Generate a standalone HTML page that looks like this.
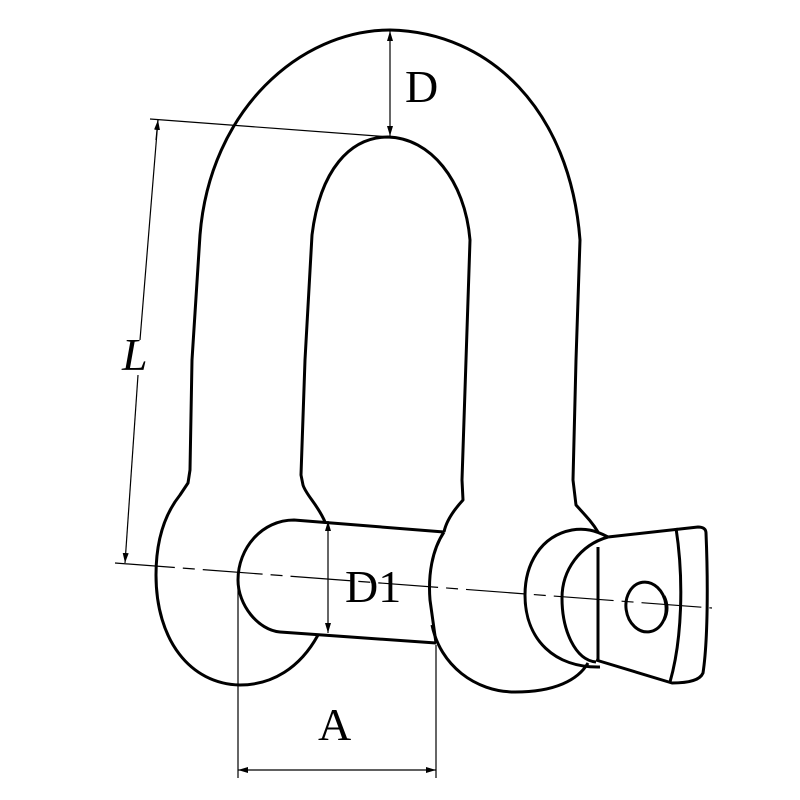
<!DOCTYPE html>
<html><head><style>html,body{margin:0;padding:0;background:#fff}svg{display:block}</style></head>
<body>
<svg width="800" height="800" viewBox="0 0 800 800" xmlns="http://www.w3.org/2000/svg">
<defs>
<marker id="ar" viewBox="0 0 10 10" refX="10" refY="5" markerWidth="10" markerHeight="10" orient="auto-start-reverse" markerUnits="userSpaceOnUse"><path d="M0,2 L10,5 L0,8 z" fill="#000"/></marker>
</defs>
<g fill="none" stroke="#000" stroke-width="3" stroke-linejoin="round">
<path d="M318,635 C300,668 272,685 240,685 C190,684 156,640 156,575 C156,535 168,510 180,495 L188,483 L190,470 L192,360 L200,235 C210,110 300,30 390,30 C490,32 570,110 580,240 L576,360 L573,480 L576,505 C585,515 592,522 598,532"/>
<path d="M325,522 C318,505 306,495 303,485 L301,475 L305,360 L312,235 C320,170 350,137 388,137 C430,138 465,180 470,240 L466,360 L462,480 L463,500 C452,512 446,522 444,532"/>
<path d="M444,532 C432,550 428,575 430,600 L436,643"/>
<path d="M432,625 C440,665 475,692 515,692 C555,692 578,680 588,663"/>
<path d="M444,532 L294,520 C262,520 238,548 238,580 C238,605 258,630 280,632 L436,643"/>
<path d="M608,537 C595,530 585,528 572,530 C540,536 525,565 525,595 C525,640 555,668 600,667"/>
<path d="M608,537 C580,545 562,570 562,598 C562,630 575,660 596,662"/>
<path d="M608,537 L698,527 C703,527 706,529 706,533 C708,580 708,640 703,673 C700,680 690,683 672,683 L596,660"/>
<path d="M676,528 C684,580 682,640 670,682"/>
<path d="M598,547 L598,660"/>
<ellipse cx="646" cy="607" rx="20" ry="25" transform="rotate(-8 646 607)"/>
<path d="M664,596 C668,604 668,612 664,620"/>
</g>
<g stroke="#000" stroke-width="1.2" fill="none">
<path d="M115,563 L712,608" stroke-dasharray="60,8,12,8"/>
<line x1="390" y1="31" x2="390" y2="136" marker-start="url(#ar)" marker-end="url(#ar)"/>
<line x1="150" y1="119" x2="390" y2="137"/>
<line x1="158" y1="120" x2="140" y2="340"/>
<line x1="138" y1="375" x2="125" y2="563" marker-end="url(#ar)"/>
<line x1="158" y1="120" x2="156" y2="140" marker-start="url(#ar)"/>
<line x1="328" y1="521" x2="328" y2="633" marker-start="url(#ar)" marker-end="url(#ar)"/>
<line x1="238" y1="585" x2="238" y2="778"/>
<line x1="436" y1="645" x2="436" y2="778"/>
<line x1="238" y1="770" x2="436" y2="770" marker-start="url(#ar)" marker-end="url(#ar)"/>
</g>
<g font-family="Liberation Serif, serif" font-size="46" fill="#000">
<text x="405" y="102">D</text>
<text x="122" y="370" font-style="italic">L</text>
<text x="345" y="602">D1</text>
<text x="318" y="740">A</text>
</g>
</svg>
</body></html>
